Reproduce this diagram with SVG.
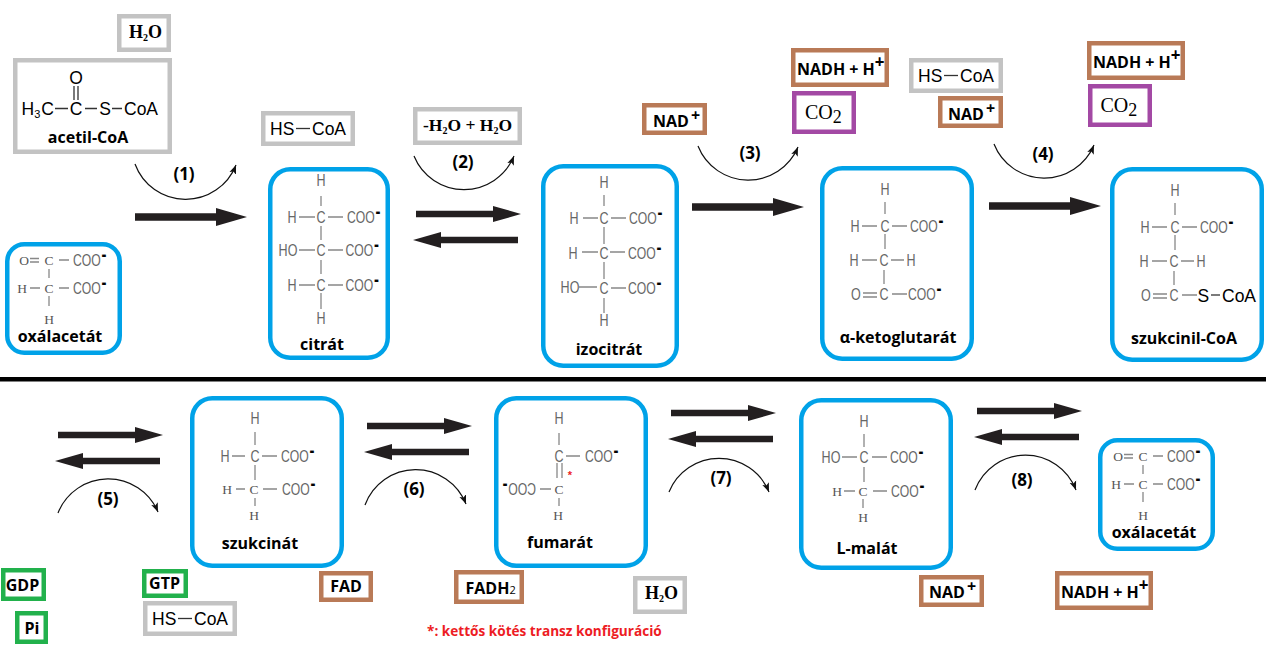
<svg xmlns="http://www.w3.org/2000/svg" width="1266" height="656" viewBox="0 0 1266 656">
<style>
text{font-family:"Liberation Sans",Arial,sans-serif;fill:#000}
.blue{fill:none;stroke:#00a2e8;stroke-width:4.5}
.gray,.brown,.purple,.green{fill:none;stroke-width:4.5}
.gray{stroke:#c3c3c3}.brown{stroke:#b97a57}.purple{stroke:#a349a4}.green{stroke:#22b14c}
.b{fill:none;stroke:#888;stroke-width:1.3}
.k{fill:none;stroke:#333;stroke-width:1.3}
.g{font-size:16.5px;fill:#666;text-anchor:middle;transform-box:fill-box;transform-origin:center;transform:scaleX(.76);opacity:.99}
.c{font-size:16.5px;fill:#666;transform-box:fill-box;transform-origin:0 0;transform:scaleX(.74);opacity:.99}
.s{font-family:"Liberation Serif",serif;font-size:13.5px;fill:#555;text-anchor:middle;opacity:.99}
.d{font-size:20px;font-weight:700;fill:#000}
.l{font-family:"Open Sans","Noto Sans",sans-serif;font-weight:700;font-size:16px;text-anchor:middle}
.n{font-family:"Open Sans","Noto Sans",sans-serif;font-weight:700;font-size:16px}
.p{font-family:"Open Sans","Noto Sans",sans-serif;font-weight:700;font-size:16px}
.r{font-family:"Open Sans","Noto Sans",sans-serif;font-weight:700;font-size:17px;text-anchor:middle}
.h{font-size:17.5px}
.w{font-family:"Liberation Serif",serif;font-weight:700;font-size:18px}
.co{font-family:"Liberation Serif",serif;font-size:20px}
.curve{fill:none;stroke:#111;stroke-width:1.2;marker-end:url(#tip)}
.arrow{fill:#231f20}
</style>
<defs>
<marker id="tip" markerUnits="userSpaceOnUse" markerWidth="11" markerHeight="9" refX="9" refY="4" orient="auto"><path d="M0,0.5L9,4L0,7.5L2,4Z" fill="#111"/></marker>
<path id="a112" d="M0,-3.7H81V-9L112,0L81,9V3.7H0Z"/>
<path id="a105" d="M0,-3.3H77V-8L105,0L77,8V3.3H0Z"/>
</defs>

<rect x="0" y="377" width="1266" height="4.5" fill="#000"/>

<g id="connectors">
<use href="#a112" class="arrow" transform="translate(135,217)"/>
<use href="#a105" class="arrow" transform="translate(416,214)"/>
<use href="#a105" class="arrow" transform="translate(518,240) scale(-1,1)"/>
<use href="#a112" class="arrow" transform="translate(692,207)"/>
<use href="#a112" class="arrow" transform="translate(989,206)"/>
<use href="#a105" class="arrow" transform="translate(58,435)"/>
<use href="#a105" class="arrow" transform="translate(160,461) scale(-1,1)"/>
<use href="#a105" class="arrow" transform="translate(367,426)"/>
<use href="#a105" class="arrow" transform="translate(469,452) scale(-1,1)"/>
<use href="#a105" class="arrow" transform="translate(671,413)"/>
<use href="#a105" class="arrow" transform="translate(773,439) scale(-1,1)"/>
<use href="#a105" class="arrow" transform="translate(977,411)"/>
<use href="#a105" class="arrow" transform="translate(1079,437) scale(-1,1)"/>
<path class="curve" d="M135,164A54,54 0 0 0 236,165"/>
<path class="curve" d="M414,156A54,54 0 0 0 514,156"/>
<path class="curve" d="M698,146A54,54 0 0 0 798,147"/>
<path class="curve" d="M994,144A54,54 0 0 0 1094,145"/>
<path class="curve" d="M58,513A54,54 0 0 1 158,512"/>
<path class="curve" d="M365,505A54,54 0 0 1 466,504"/>
<path class="curve" d="M669,492A54,54 0 0 1 769,492"/>
<path class="curve" d="M975,490A54,54 0 0 1 1076,490"/>
<text class="r" x="184" y="180">(1)</text>
<text class="r" x="463" y="168">(2)</text>
<text class="r" x="750" y="159">(3)</text>
<text class="r" x="1043" y="160">(4)</text>
<text class="r" x="108" y="505">(5)</text>
<text class="r" x="414" y="495">(6)</text>
<text class="r" x="721" y="484">(7)</text>
<text class="r" x="1022" y="486">(8)</text>
</g>

<g id="h2o-1"><rect class="gray" x="119.250" y="16.250" width="49.500" height="33.500"/><text class="w" x="129" y="38">H<tspan font-size="10" dy="3">2</tspan><tspan dy="-3">O</tspan></text></g>

<g id="acetil-coa"><rect class="gray" x="15.250" y="60.250" width="154.500" height="91.500"/>
<text class="h" x="76" y="84" text-anchor="middle">O</text>
<path class="k" d="M74,86V100M78,86V100M55,108.500H68M85,108.500H97M112,108.500H122"/>
<text class="h" x="21.500" y="115">H<tspan font-size="11" dy="3">3</tspan><tspan dy="-3" dx="1">C</tspan></text>
<text class="h" x="76" y="115" text-anchor="middle">C</text>
<text class="h" x="105" y="115" text-anchor="middle">S</text>
<text class="h" x="124" y="115">CoA</text>
<text class="l" x="88" y="143">acetil-CoA</text></g>

<g id="hs-coa-1"><rect class="gray" x="263.250" y="113.250" width="89.500" height="30.500"/>
<text class="h" x="270" y="134.500">HS</text><path class="k" d="M296,128.500H310"/><text class="h" x="312" y="134.500">CoA</text></g>

<g id="h2o-pair"><rect class="gray" x="415.250" y="109.250" width="104.500" height="33.500"/><text class="w" x="423" y="131" style="font-size:17.500px">-H<tspan font-size="10" dy="3">2</tspan><tspan dy="-3">O + H</tspan><tspan font-size="10" dy="3">2</tspan><tspan dy="-3">O</tspan></text></g>

<g id="nad-1"><rect class="brown" x="644.250" y="105.250" width="60.500" height="27.500"/><text class="n" x="653" y="127">NAD<tspan dx="2" dy="-6">+</tspan></text></g>
<g id="nadh-1"><rect class="brown" x="793.250" y="50.250" width="93.500" height="34.500"/><text class="n" x="797" y="75">NADH + H<tspan dy="-7" font-size="17">+</tspan></text></g>
<g id="co2-1"><rect class="purple" x="794.250" y="93.250" width="59.500" height="38.500"/><text class="co" x="805" y="119">CO<tspan font-size="18" dy="4">2</tspan></text></g>
<g id="hs-coa-2"><rect class="gray" x="911.250" y="60.250" width="89.500" height="30.500"/>
<text class="h" x="918" y="81.500">HS</text><path class="k" d="M944,75.500H958"/><text class="h" x="960" y="81.500">CoA</text></g>
<g id="nad-2"><rect class="brown" x="940.250" y="98.250" width="60.500" height="27.500"/><text class="n" x="948" y="120">NAD<tspan dx="2" dy="-6">+</tspan></text></g>
<g id="nadh-2"><rect class="brown" x="1089.250" y="43.250" width="93.500" height="34.500"/><text class="n" x="1093" y="68">NADH + H<tspan dy="-7" font-size="17">+</tspan></text></g>
<g id="co2-2"><rect class="purple" x="1090.250" y="86.250" width="59.500" height="38.500"/><text class="co" x="1100.500" y="112">CO<tspan font-size="18" dy="4">2</tspan></text></g>

<g id="oxalacetat-1"><rect class="blue" x="7.250" y="244.250" width="112.500" height="108.500" rx="17"/>
<g transform="translate(-1094,-196)">
<path class="b" d="M1124,454.500H1133M1124,458H1133M1153,456H1163M1143,465V474M1124,484H1134M1153,484H1163M1143,492V502"/>
<text class="s" x="1118" y="461">O</text><text class="s" x="1143" y="461">C</text>
<text class="c" x="1167" y="462">COO<tspan class="d" dy="-5" dx="1">-</tspan></text>
<text class="s" x="1116" y="489">H</text><text class="s" x="1143" y="489">C</text>
<text class="c" x="1167" y="490">COO<tspan class="d" dy="-5" dx="1">-</tspan></text>
<text class="s" x="1143" y="520">H</text>
<text class="l" x="1154" y="538">oxálacetát</text></g></g>

<g id="citrat"><rect class="blue" x="270.250" y="169.250" width="117.500" height="188.500" rx="20"/>
<g transform="translate(321,0)">
<path class="b" d="M0,196V206M-22,217H-6M7,217H22M0,226V240M-22,250H-6M7,250H22M0,260V274M-22,285H-6M7,285H22M0,293V309"/>
<text class="g" x="0" y="186">H</text>
<text class="g" x="-29" y="223">H</text><text class="g" x="0" y="223">C</text>
<text class="c" x="26" y="223">COO<tspan class="d" dy="-5" dx="1">-</tspan></text>
<text class="g" x="-33" y="256">HO</text><text class="g" x="0" y="256">C</text>
<text class="c" x="24.500" y="256">COO<tspan class="d" dy="-5" dx="1">-</tspan></text>
<text class="g" x="-29" y="291">H</text><text class="g" x="0" y="291">C</text>
<text class="c" x="24.500" y="291">COO<tspan class="d" dy="-5" dx="1">-</tspan></text>
<text class="g" x="0" y="324">H</text>
<text class="l" x="1" y="350">citrát</text></g></g>

<g id="izocitrat"><rect class="blue" x="543.250" y="166.250" width="133.500" height="199.500" rx="20"/>
<g transform="translate(604,0)">
<path class="b" d="M0,195V206M-21,218H-6M7,218H22M0,227V244M-22,252H-6M6,252H21M0,262V279M-25,287H-7M7,288H22M0,298V313"/>
<text class="g" x="0" y="188.500">H</text>
<text class="g" x="-30" y="224">H</text><text class="g" x="0" y="224">C</text>
<text class="c" x="25" y="224">COO<tspan class="d" dy="-5" dx="1">-</tspan></text>
<text class="g" x="-31" y="259">H</text><text class="g" x="0" y="259">C</text>
<text class="c" x="24" y="259">COO<tspan class="d" dy="-5" dx="1">-</tspan></text>
<text class="g" x="-34" y="293">HO</text><text class="g" x="0" y="294">C</text>
<text class="c" x="24" y="294">COO<tspan class="d" dy="-5" dx="1">-</tspan></text>
<text class="g" x="0" y="326.500">H</text>
<text class="l" x="5" y="355">izocitrát</text></g></g>

<g id="ketoglutarat"><rect class="blue" x="822.250" y="168.250" width="149.500" height="190.500" rx="20"/>
<path class="b" d="M885,202V214M862,226H877M892,226H907M885,234V249M862,260H877M891,260H904M884,270V284M863,293H877M863,297H877M892,294H907"/>
<text class="g" x="885" y="195">H</text>
<text class="g" x="855" y="232">H</text><text class="g" x="885" y="232">C</text>
<text class="c" x="910" y="232">COO<tspan class="d" dy="-5" dx="1">-</tspan></text>
<text class="g" x="854" y="266">H</text><text class="g" x="884" y="266">C</text><text class="g" x="911" y="266">H</text>
<text class="g" x="856" y="300">O</text><text class="g" x="884" y="300">C</text>
<text class="c" x="908" y="300">COO<tspan class="d" dy="-5" dx="1">-</tspan></text>
<text class="l" x="898" y="343">α-ketoglutarát</text></g>

<g id="szukcinil-coa"><rect class="blue" x="1112.250" y="169.250" width="149.500" height="190.500" rx="20"/>
<path class="b" d="M1175,203V215M1152,227H1167M1182,227H1197M1175,235V250M1152,261H1167M1181,261H1194M1174,271V285M1153,294H1167M1153,298H1167M1182,295H1197"/>
<path class="k" d="M1211,295H1220"/>
<text class="g" x="1175" y="196">H</text>
<text class="g" x="1145" y="233">H</text><text class="g" x="1175" y="233">C</text>
<text class="c" x="1200" y="233">COO<tspan class="d" dy="-5" dx="1">-</tspan></text>
<text class="g" x="1144" y="267">H</text><text class="g" x="1174" y="267">C</text><text class="g" x="1201" y="267">H</text>
<text class="g" x="1146" y="301">O</text><text class="g" x="1174" y="301">C</text>
<text class="h" x="1197.500" y="302">S</text><text class="h" x="1222" y="302">CoA</text>
<text class="l" x="1184" y="344">szukcinil-CoA</text></g>

<g id="szukcinat"><rect class="blue" x="192.250" y="398.250" width="149.500" height="167.500" rx="20"/>
<path class="b" d="M255,432V445M232,456H245M262,456H277M255,465V480M236,489H245M263,489H277M255,498V506"/>
<text class="g" x="255" y="424">H</text>
<text class="g" x="225" y="462">H</text><text class="g" x="255" y="462">C</text>
<text class="c" x="281" y="462">COO<tspan class="d" dy="-5" dx="1">-</tspan></text>
<text class="s" x="227" y="494">H</text><text class="s" x="254" y="494">C</text>
<text class="c" x="282" y="495">COO<tspan class="d" dy="-5" dx="1">-</tspan></text>
<text class="s" x="254" y="520">H</text>
<text class="l" x="260" y="549">szukcinát</text></g>

<g id="fumarat"><rect class="blue" x="496.250" y="398.250" width="149.500" height="167.500" rx="20"/>
<path class="b" d="M559,433V445M566,456H580M557,463V478M562,463V478M540,489H551M559,498V506"/>
<text class="g" x="559" y="424">H</text>
<text class="g" x="559" y="462">C</text>
<text class="c" x="585" y="462">COO<tspan class="d" dy="-5" dx="1">-</tspan></text>
<text x="570" y="479" font-size="11" font-weight="700" text-anchor="middle" style="fill:#ed1c24">*</text>
<g transform="translate(536,495) scale(-1,1)"><text class="c" x="0" y="0">COO<tspan class="d" dy="-5" dx="1">-</tspan></text></g>
<text class="s" x="559" y="494">C</text>
<text class="s" x="558" y="520">H</text>
<text class="l" x="560" y="548">fumarát</text></g>

<g id="l-malat"><rect class="blue" x="801.250" y="400.250" width="149.500" height="167.500" rx="20"/>
<path class="b" d="M864,434V447M842,457H857M872,457H887M864,467V482M844,491H855M873,491H887M863,499V508"/>
<text class="g" x="864" y="427">H</text>
<text class="g" x="831" y="463">HO</text><text class="g" x="864" y="463">C</text>
<text class="c" x="890" y="463">COO<tspan class="d" dy="-5" dx="1">-</tspan></text>
<text class="s" x="837" y="496">H</text><text class="s" x="863" y="496">C</text>
<text class="c" x="891" y="497">COO<tspan class="d" dy="-5" dx="1">-</tspan></text>
<text class="s" x="863" y="522">H</text>
<text class="l" x="867" y="554">L-malát</text></g>

<g id="oxalacetat-2"><rect class="blue" x="1100.250" y="440.250" width="112.500" height="108.500" rx="17"/>
<path class="b" d="M1124,454.500H1133M1124,458H1133M1153,456H1163M1143,465V474M1124,484H1134M1153,484H1163M1143,492V502"/>
<text class="s" x="1118" y="461">O</text><text class="s" x="1143" y="461">C</text>
<text class="c" x="1167" y="462">COO<tspan class="d" dy="-5" dx="1">-</tspan></text>
<text class="s" x="1116" y="489">H</text><text class="s" x="1143" y="489">C</text>
<text class="c" x="1167" y="490">COO<tspan class="d" dy="-5" dx="1">-</tspan></text>
<text class="s" x="1143" y="520">H</text>
<text class="l" x="1154" y="538">oxálacetát</text></g>

<g id="gdp"><rect class="green" x="3.250" y="570.250" width="40.500" height="28.500"/><text class="p" x="22.500" y="591" text-anchor="middle">GDP</text></g>
<g id="pi"><rect class="green" x="17.250" y="613.250" width="28.500" height="28.500"/><text class="p" x="32" y="634" text-anchor="middle">Pi</text></g>
<g id="gtp"><rect class="green" x="144.250" y="571.250" width="41.500" height="24.500"/><text class="p" x="164.500" y="589" text-anchor="middle">GTP</text></g>
<g id="hs-coa-3"><rect class="gray" x="145.250" y="603.250" width="89.500" height="30.500"/>
<text class="h" x="152" y="624.500">HS</text><path class="k" d="M178,618.500H192"/><text class="h" x="194" y="624.500">CoA</text></g>
<g id="fad"><rect class="brown" x="321.250" y="573.250" width="49.500" height="26.500"/><text class="p" x="346" y="592" text-anchor="middle">FAD</text></g>
<g id="fadh2"><rect class="brown" x="456.250" y="572.250" width="65.500" height="29.500"/><text class="p" x="465.500" y="594">FADH<tspan font-size="11" font-weight="400">2</tspan></text></g>
<g id="h2o-2"><rect class="gray" x="635.250" y="578.250" width="49.500" height="33.500"/><text class="w" x="645" y="599">H<tspan font-size="10" dy="3">2</tspan><tspan dy="-3">O</tspan></text></g>
<g id="nad-3"><rect class="brown" x="921.250" y="577.250" width="60.500" height="27.500"/><text class="n" x="929" y="598">NAD<tspan dx="2" dy="-6">+</tspan></text></g>
<g id="nadh-3"><rect class="brown" x="1057.250" y="573.250" width="93.500" height="34.500"/><text class="n" x="1061" y="598">NADH + H<tspan dy="-7" font-size="17">+</tspan></text></g>
<text x="427" y="636" style="font-family:'Open Sans','Noto Sans',sans-serif;font-weight:700;font-size:13.600px;fill:#ed1c24">*: kettős kötés transz konfiguráció</text>
</svg>
